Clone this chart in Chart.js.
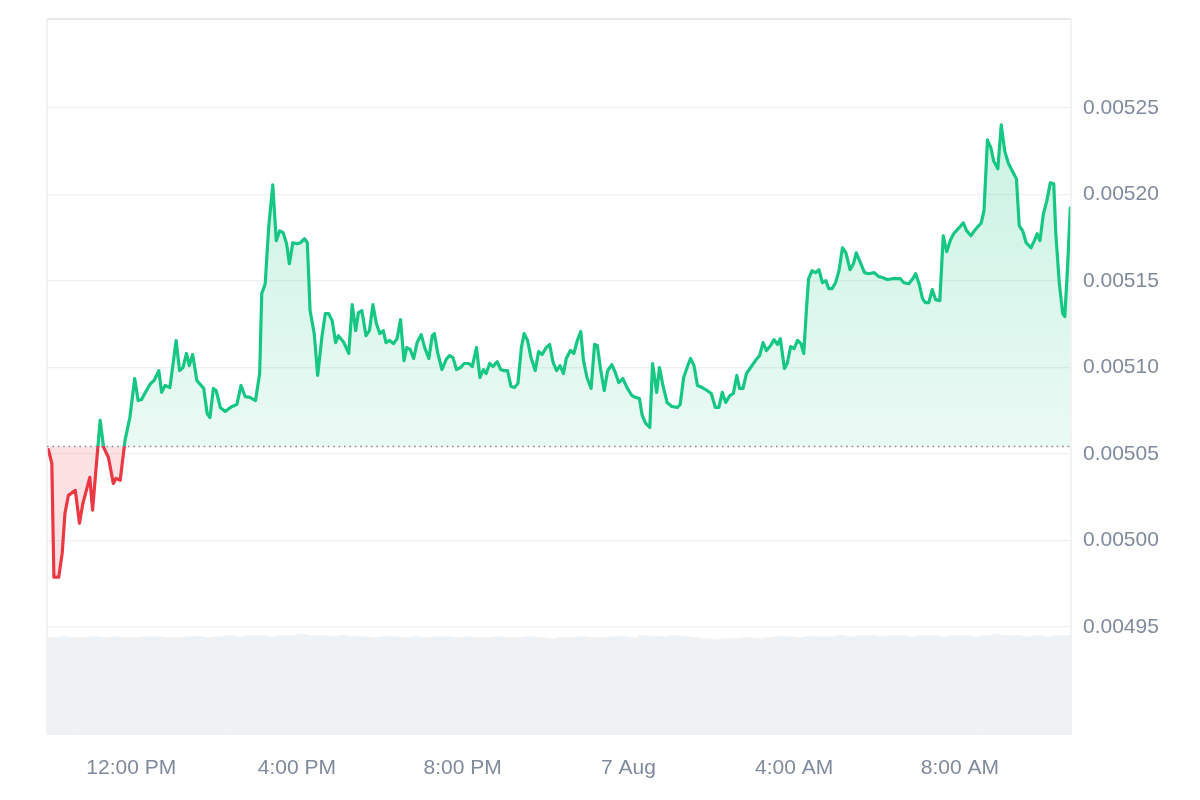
<!DOCTYPE html>
<html>
<head>
<meta charset="utf-8">
<script src="https://cdn.jsdelivr.net/npm/chart.js@4.4.1/dist/chart.umd.min.js"></script>
<style>
  html, body { margin: 0; padding: 0; background: #fff; }
</style>
</head>
<body>
<canvas id="price-chart" width="1200" height="800"></canvas>
<script>
// price series: minutes after 10:00 AM (6 Aug) and price
const minutes = [0,5,8,15,20,24,29,39,45,50,60,64,70,75,80,87,94,98,104,111,118,125,130,135,142,148,153,160,164,169,176,185,190,195,200,204,209,215,225,230,234,239,243,249,256,266,273,279,285,292,300,306,309,314,319,325,330,335,340,345,349,354,360,365,371,375,379,385,390,396,401,406,411,416,420,428,435,440,445,449,454,460,465,470,475,480,485,489,494,500,505,510,515,519,524,529,534,540,545,551,556,559,564,570,576,581,586,591,597,602,609,614,620,625,630,634,639,644,650,655,660,665,670,675,680,685,689,694,699,705,710,715,721,726,731,736,741,746,750,756,761,766,771,775,780,786,791,795,800,805,810,816,821,826,832,838,845,850,856,860,865,871,875,881,885,890,896,903,911,915,920,925,930,935,940,947,954,960,966,971,976,981,987,992,997,1001,1006,1011,1017,1024,1030,1035,1040,1046,1051,1056,1060,1066,1070,1075,1080,1085,1090,1094,1098,1101,1106,1111,1116,1121,1126,1130,1135,1140,1145,1150,1155,1161,1166,1170,1176,1182,1188,1196,1203,1209,1215,1222,1229,1234,1239,1246,1251,1256,1261,1266,1270,1275,1280,1285,1291,1296,1301,1306,1311,1319,1325,1330,1336,1341,1346,1351,1355,1360,1365,1369,1375,1380,1385,1390,1396,1402,1406,1411,1416,1423,1428,1432,1436,1441,1446,1451,1456,1459,1464,1469,1472,1476,1480];
const prices = [
  0.0050525,0.0050446,0.0049788,0.0049788,0.0049927,0.0050157,0.0050261,0.0050290,0.0050100,0.0050215,
  0.0050365,0.0050175,0.0050463,0.0050694,0.0050538,0.0050480,0.0050330,0.0050359,0.0050348,0.0050579,
  0.0050711,0.0050936,0.0050809,0.0050815,0.0050867,0.0050907,0.0050925,0.0050982,0.0050856,0.0050896,
  0.0050884,0.0051156,0.0050982,0.0051000,0.0051081,0.0051011,0.0051075,0.0050925,0.0050879,0.0050734,
  0.0050711,0.0050879,0.0050867,0.0050769,0.0050746,0.0050775,0.0050786,0.0050896,0.0050832,0.0050827,
  0.0050809,0.0050965,0.0051427,0.0051484,0.0051808,0.0052056,0.0051733,0.0051790,0.0051779,0.0051715,
  0.0051600,0.0051721,0.0051715,0.0051721,0.0051744,0.0051721,0.0051329,0.0051196,0.0050954,0.0051173,
  0.0051311,0.0051311,0.0051271,0.0051144,0.0051184,0.0051144,0.0051081,0.0051363,0.0051213,0.0051317,
  0.0051329,0.0051184,0.0051213,0.0051363,0.0051254,0.0051196,0.0051213,0.0051144,0.0051156,0.0051138,
  0.0051167,0.0051277,0.0051040,0.0051115,0.0051104,0.0051052,0.0051144,0.0051190,0.0051115,0.0051052,
  0.0051184,0.0051196,0.0051081,0.0050988,0.0051046,0.0051069,0.0051057,0.0050988,0.0051000,0.0051023,
  0.0051023,0.0051006,0.0051115,0.0050942,0.0050988,0.0050965,0.0051023,0.0051006,0.0051034,0.0050988,
  0.0050982,0.0050982,0.0050890,0.0050884,0.0050907,0.0051115,0.0051196,0.0051156,0.0051057,0.0050982,
  0.0051092,0.0051075,0.0051115,0.0051133,0.0051029,0.0050982,0.0051011,0.0050965,0.0051052,0.0051098,
  0.0051081,0.0051156,0.0051208,0.0051040,0.0050942,0.0050879,0.0051133,0.0051127,0.0050982,0.0050867,
  0.0050982,0.0051017,0.0050971,0.0050913,0.0050936,0.0050884,0.0050838,0.0050827,0.0050821,0.0050723,
  0.0050677,0.0050654,0.0051023,0.0050856,0.0051000,0.0050896,0.0050798,0.0050775,0.0050769,0.0050786,
  0.0050942,0.0051000,0.0051052,0.0051011,0.0050896,0.0050884,0.0050867,0.0050850,0.0050769,0.0050769,
  0.0050856,0.0050798,0.0050838,0.0050850,0.0050954,0.0050879,0.0050879,0.0050965,0.0051000,0.0051040,
  0.0051069,0.0051144,0.0051098,0.0051127,0.0051161,0.0051133,0.0051167,0.0050994,0.0051023,0.0051121,
  0.0051109,0.0051156,0.0051138,0.0051081,0.0051346,0.0051513,0.0051559,0.0051548,0.0051565,0.0051490,
  0.0051502,0.0051456,0.0051456,0.0051490,0.0051559,0.0051692,0.0051663,0.0051565,0.0051600,0.0051663,
  0.0051606,0.0051548,0.0051542,0.0051548,0.0051525,0.0051519,0.0051508,0.0051513,0.0051513,0.0051513,
  0.0051490,0.0051484,0.0051508,0.0051542,0.0051484,0.0051398,0.0051375,0.0051375,0.0051450,0.0051392,
  0.0051386,0.0051761,0.0051669,0.0051733,0.0051773,0.0051808,0.0051836,0.0051790,0.0051761,0.0051790,
  0.0051813,0.0051836,0.0051906,0.0052315,0.0052269,0.0052194,0.0052148,0.0052402,0.0052252,0.0052183,
  0.0052136,0.0052090,0.0051819,0.0051790,0.0051721,0.0051692,0.0051733,0.0051773,0.0051733,0.0051888,
  0.0051963,0.0052067,0.0052061,0.0051773,0.0051490,0.0051311,0.0051294,0.0051577,0.0051923
];
const openPrice = 0.0050544;

// volume per 15-minute bucket
const volumes = [
  98,99,98,98,99,98,99,98,98,99,99,98,98,99,99,98,
  99,100,99,100,100,99,100,100,101,100,100,99,100,
  99,99,98,99,99,98,99,98,99,99,98,99,98,98,99,
  98,98,99,98,97,98,98,99,98,98,99,99,98,100,99,
  99,100,99,98,97,96,97,97,98,97,98,99,99,98,99,
  99,99,100,99,100,100,99,100,100,99,100,100,99,100,
  100,99,100,101,100,100,99,100,99,100,100
];

const xTicks = [120, 360, 600, 840, 1080, 1320];
const xLabels = ['12:00 PM', '4:00 PM', '8:00 PM', '7 Aug', '4:00 AM', '8:00 AM'];
const yTicks = [0.00495, 0.0050, 0.00505, 0.0051, 0.00515, 0.0052, 0.00525];

const green = '#16c784';
const red = '#ea3943';
const labelFont = { family: '"Liberation Sans", Arial, sans-serif', size: 21 };
const labelColor = '#808a9d';

function splitAt(chart) {
  const a = chart.chartArea;
  const yb = chart.scales.y.getPixelForValue(openPrice);
  return Math.min(1, Math.max(0, (yb - a.top) / (a.bottom - a.top)));
}

function lineColor(chart) {
  if (!chart.chartArea) return green;
  const a = chart.chartArea;
  const r = splitAt(chart);
  const g = chart.ctx.createLinearGradient(0, a.top, 0, a.bottom);
  g.addColorStop(0, green);
  g.addColorStop(r, green);
  g.addColorStop(r, red);
  g.addColorStop(1, red);
  return g;
}

function areaColor(chart) {
  if (!chart.chartArea) return 'rgba(22,199,132,0.15)';
  const a = chart.chartArea;
  const r = splitAt(chart);
  const g = chart.ctx.createLinearGradient(0, a.top, 0, a.bottom);
  g.addColorStop(0, 'rgba(22,199,132,0.27)');
  g.addColorStop(r, 'rgba(22,199,132,0.09)');
  g.addColorStop(r, 'rgba(234,57,67,0.15)');
  g.addColorStop(1, 'rgba(234,57,67,0.15)');
  return g;
}

// frame lines and dotted open-price line
const frame = {
  id: 'frame',
  afterDatasetsDraw(chart) {
    const { ctx, chartArea: a } = chart;
    const yb = chart.scales.y.getPixelForValue(openPrice);
    ctx.save();
    ctx.strokeStyle = '#e2e2e2';
    ctx.lineWidth = 1.5;
    ctx.beginPath();
    ctx.moveTo(a.left, a.top);
    ctx.lineTo(a.right, a.top);
    ctx.stroke();
    ctx.strokeStyle = '#eeeeee';
    ctx.beginPath();
    ctx.moveTo(a.left, a.top);
    ctx.lineTo(a.left, a.bottom);
    ctx.moveTo(a.right, a.top);
    ctx.lineTo(a.right, a.bottom);
    ctx.stroke();
    ctx.strokeStyle = '#858c96';
    ctx.setLineDash([1.6, 3.8]);
    ctx.beginPath();
    ctx.moveTo(a.left, yb);
    ctx.lineTo(a.right, yb);
    ctx.stroke();
    ctx.restore();
  }
};

new Chart(document.getElementById('price-chart'), {
  type: 'line',
  data: {
    datasets: [{
      type: 'line',
      data: minutes.map((m, i) => ({ x: m, y: prices[i] })),
      yAxisID: 'y',
      borderWidth: 3.2,
      borderJoinStyle: 'round',
      borderCapStyle: 'round',
      pointRadius: 0,
      tension: 0,
      fill: { target: { value: openPrice } },
      borderColor: ctx => lineColor(ctx.chart),
      backgroundColor: ctx => areaColor(ctx.chart),
      order: 0
    }, {
      type: 'bar',
      data: volumes.map((v, i) => ({ x: i * 15 + 7.5, y: v })),
      yAxisID: 'yVol',
      backgroundColor: '#eff2f5',
      borderWidth: 0,
      barPercentage: 1,
      categoryPercentage: 1,
      order: 1
    }]
  },
  options: {
    responsive: false,
    animation: false,
    layout: { padding: { left: 47, top: 19 } },
    plugins: {
      legend: { display: false },
      tooltip: { enabled: false }
    },
    scales: {
      x: {
        type: 'linear',
        min: -2,
        max: 1481,
        offset: false,
        grid: { display: false },
        border: { display: false },
        afterBuildTicks: s => { s.ticks = xTicks.map(v => ({ value: v })); },
        afterFit: s => { s.height = 65; s.paddingLeft = 0; s.paddingRight = 0; },
        ticks: {
          padding: 13,
          autoSkip: false,
          maxRotation: 0,
          color: labelColor,
          font: labelFont,
          callback: (v, i) => xLabels[i]
        }
      },
      y: {
        position: 'right',
        min: 0.0048876,
        max: 0.0053014,
        afterBuildTicks: s => { s.ticks = yTicks.map(v => ({ value: v })); },
        afterFit: s => { s.width = 129; s.paddingTop = 0; s.paddingBottom = 0; },
        grid: { color: '#f0f0f0', lineWidth: 1.2, drawTicks: false },
        border: { display: false },
        ticks: {
          padding: 12,
          color: labelColor,
          font: labelFont,
          callback: v => v.toFixed(5)
        }
      },
      yVol: {
        display: false,
        min: 0,
        max: 720
      }
    }
  },
  plugins: [frame]
});
</script>
</body>
</html>
